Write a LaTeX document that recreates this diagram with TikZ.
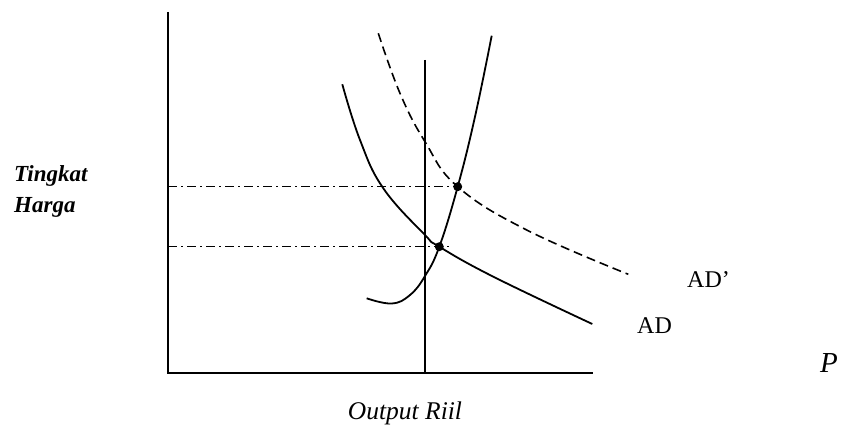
\documentclass[tikz,border=0pt]{standalone}
\usepackage{fontspec}
\setmainfont{Liberation Serif}
\begin{document}
\begin{tikzpicture}[x=1pt,y=-1pt,
  curve/.style={line width=1.8pt},
  axisline/.style={line width=2pt},
  dashdot/.style={line width=1.5pt,dash pattern=on 9pt off 4pt on 2pt off 4pt},
  adprime/.style={line width=1.6pt,dash pattern=on 9pt off 5pt},
  eqdot/.style={circle,fill=black,inner sep=0pt,minimum size=9pt},
  lbl/.style={inner sep=0pt,font=\fontsize{24}{28}\selectfont},
  ylbl/.style={inner sep=0pt,anchor=base west,font=\fontsize{23}{27}\selectfont\bfseries\itshape}]
\useasboundingbox (0,0) rectangle (843,427);
% axes
\coordinate (O) at (168,373);
\coordinate (Ytop) at (168,12);
\coordinate (Xend) at (593,373);
\draw[axisline] (Ytop) -- (O) -- (Xend);
% vertical (long-run) line
\coordinate (Vtop) at (425,60);
\coordinate (Vbot) at (425,373);
\draw[curve] (Vtop) -- (Vbot);
% dash-dot guide lines
\coordinate (H2) at (168,186.7);
\coordinate (H1) at (168,246.7);
\coordinate (H2e) at (458,186.7);
\coordinate (H1e) at (450,246.7);
\draw[dashdot] (H2) -- (H2e);
\draw[dashdot] (H1) -- (H1e);
% AS curve
\draw[curve] plot[smooth,tension=0.7] coordinates {(366.7,298.3) (391.7,303.5) (410,295) (425,276) (439.3,246.7) (457.7,186.7) (475,116.7) (491.7,35.7)};
% AD curve
\draw[curve] plot[smooth,tension=0.7] coordinates {(342.3,84.3) (360,140) (383.3,188.3) (425,235) (439.3,246.7) (493.3,276.7) (592.3,324)};
% AD' curve
\draw[adprime] plot[smooth,tension=0.7] coordinates {(378.3,33.3) (400,93.3) (425,141.7) (457.7,186.7) (526.7,230) (628.3,274.3)};
% equilibrium points
\node[eqdot] (E2) at (457.7,186.7) {};
\node[eqdot] (E1) at (439.3,246.7) {};
% labels
\node[ylbl] (ylab1) at (14,182) {Tingkat};
\node[ylbl] (ylab2) at (14,213) {Harga};
\node[lbl,anchor=base west] (adp) at (687,288) {AD’};
\node[lbl,anchor=base west] (ad) at (637,334) {AD};
\node[lbl,anchor=base west,font=\fontsize{29}{33}\selectfont\itshape] (p) at (820,372) {P};
\node[lbl,anchor=base,font=\fontsize{25.5}{29}\selectfont\itshape] (xlab) at (405,419) {Output Riil};
\end{tikzpicture}
\end{document}
